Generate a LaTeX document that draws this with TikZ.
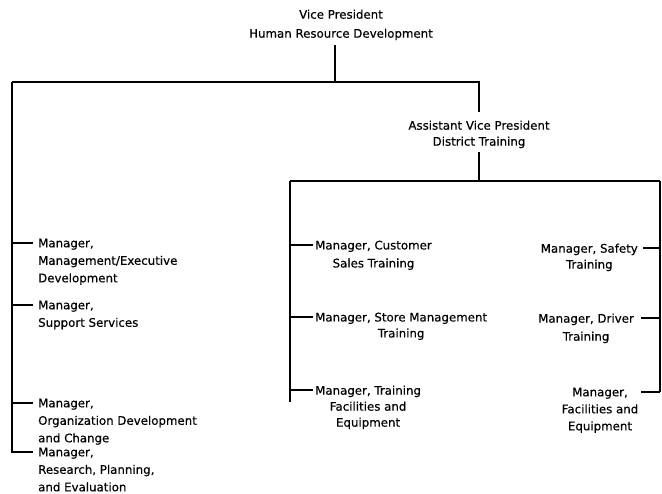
\documentclass[tikz,border=0pt]{standalone}
\usepackage{fontspec}
\setmainfont[FakeBold=0.4]{DejaVu Sans}
\usetikzlibrary{calc}
\begin{document}
\begin{tikzpicture}[x=1pt,y=-1pt,
  txt/.style={inner sep=0pt, font=\fontsize{11.8}{#1}\selectfont},
  ln/.style={line width=1.2pt, black}]
\useasboundingbox (0,0) rectangle (662,494);

% top level
\node[txt=19, align=center, anchor=north] (vp) at (341,9.5) {Vice President\\Human Resource Development};
\coordinate (j1) at (335,82);
\coordinate (lt) at (12,82);
\coordinate (rt) at (479,82);
\coordinate (lb) at (12,453);
\draw[ln, shorten <=5pt] (vp.south -| j1) -- (j1);

\node[txt=16, align=center, anchor=north] (avp) at (479,120.5) {Assistant Vice President\\District Training};
\draw[ln, shorten >=8pt] (lt) -- (rt) -- (avp.north -| rt);
\draw[ln] (lt) -- (lb);

\coordinate (j2) at (479,181);
\coordinate (ml) at (290,181);
\coordinate (mr) at (660,181);
\coordinate (mb) at (290,402);
\coordinate (rb) at (660,392);
\draw[ln, shorten <=4pt] (avp.south -| j2) -- (j2);
\draw[ln] (ml) -- (mr);
\draw[ln] (ml) -- (mb);
\draw[ln] (mr) -- (rb);

% left column
\node[txt=17.5, align=left, anchor=north west] (l1) at (38,238.5) {Manager,\\Management/Executive\\Development};
\node[txt=17.5, align=left, anchor=north west] (l2) at (38,300.5) {Manager,\\Support Services};
\node[txt=17.5, align=left, anchor=north west] (l3) at (38,398.5) {Manager,\\Organization Development\\and Change};
\node[txt=17.5, align=left, anchor=north west] (l4) at (38,447.5) {Manager,\\Research, Planning,\\and Evaluation};
\foreach \n in {l1,l2,l3,l4}{
  \draw[ln] ($(\n.north west)+(-5,4.5)$) coordinate (\n t) -- (\n t -| lt);
}

% middle column
\node[txt=18, align=center, anchor=north west] (m1) at (315,240.5) {Manager, Customer\\Sales Training};
\node[txt=16, align=center, anchor=north west] (m2) at (315,312.5) {Manager, Store Management\\Training};
\node[txt=16, align=center, anchor=north west] (m3) at (315,385.5) {Manager, Training\\Facilities and\\Equipment};
\foreach \n in {m1,m2,m3}{
  \draw[ln] ($(\n.north west)+(-2,4.5)$) coordinate (\n t) -- (\n t -| ml);
}

% right column
\node[txt=16, align=center, anchor=north east] (r1) at (638,243.5) {Manager, Safety\\Training};
\node[txt=18, align=center, anchor=north east] (r2) at (634,313.5) {Manager, Driver\\Training};
\node[txt=17, align=center, anchor=north] (r3) at (600,387.5) {Manager,\\Facilities and\\Equipment};
\draw[ln] ($(r1.north east)+(5,4.5)$) coordinate (r1t) -- (r1t -| mr);
\draw[ln] ($(r2.north east)+(7,4.5)$) coordinate (r2t) -- (r2t -| mr);
\draw[ln] ($(r3.north)+(41,4.5)$) coordinate (r3t) -- (r3t -| mr);
\end{tikzpicture}
\end{document}
